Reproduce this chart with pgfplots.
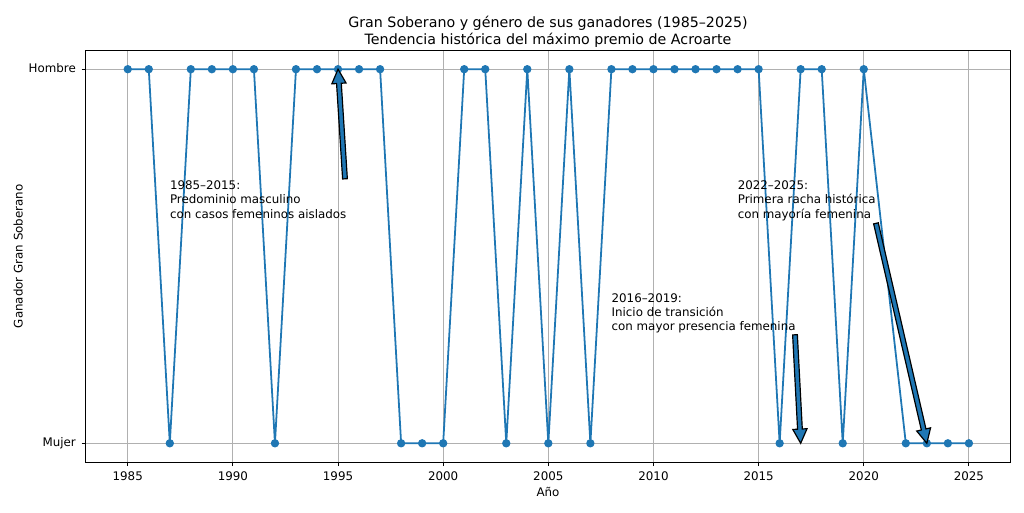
\documentclass[border=0pt]{standalone}
\usepackage{pgfplots}
\pgfplotsset{compat=1.18}
\usepackage{fontspec}
\setmainfont{DejaVu Sans}
\usetikzlibrary{calc}
\definecolor{cO}{HTML}{1F77B4}
\definecolor{gridgray}{HTML}{B0B0B0}
\newcommand{\fancyarrow}[2]{%
  \coordinate (#1h) at ($(#2)!12pt!(#1)$);
  \filldraw[fill=cO, draw=black, line width=1pt, line join=miter]
    ($(#1)!2pt!90:(#2)$) -- ($(#1h)!2pt!90:(#2)$) -- ($(#1h)!6pt!90:(#2)$) --
    (#2) -- ($(#1h)!6pt!-90:(#2)$) -- ($(#1h)!2pt!-90:(#2)$) --
    ($(#1)!2pt!-90:(#2)$) -- cycle;
}
\pgfplotstableread{
year winner
1985 1
1986 1
1987 0
1988 1
1989 1
1990 1
1991 1
1992 0
1993 1
1994 1
1995 1
1996 1
1997 1
1998 0
1999 0
2000 0
2001 1
2002 1
2003 0
2004 1
2005 0
2006 1
2007 0
2008 1
2009 1
2010 1
2011 1
2012 1
2013 1
2014 1
2015 1
2016 0
2017 1
2018 1
2019 0
2020 1
2022 0
2023 0
2024 0
2025 0
}\datatable
\begin{document}
\begin{tikzpicture}
\useasboundingbox (0,0) rectangle (864pt,432pt);
\begin{axis}[
  at={(72.3pt,42.19pt)}, anchor=south west,
  scale only axis, width=780.7pt, height=347.2pt,
  xmin=1983, xmax=2027, ymin=-0.05, ymax=1.05,
  xtick={1985,1990,...,2025}, ytick={0,1}, yticklabels={Mujer,Hombre},
  /pgf/number format/1000 sep={}, /pgf/number format/assume math mode=true,
  tick pos=left, tick align=outside, major tick length=3.5pt,
  tick style={black, line width=0.8pt},
  axis line style={black, line width=0.8pt},
  grid=major, grid style={gridgray, line width=0.8pt},
  tick label style={font=\fontsize{10}{12}\selectfont, inner sep=0pt},
  xticklabel style={anchor=base, yshift=-12.0pt},
  yticklabel style={anchor=mid east, xshift=-4.6pt},
]
\addplot[cO, line width=1.5pt, line join=round, mark=*, mark size=3pt, mark options={solid, fill=cO, draw=cO, line width=1pt}] table[x=year, y=winner] {\datatable};
\node[anchor=base west, align=left, font=\fontsize{10}{12}\selectfont, inner sep=0pt] at (axis cs:1987,0.602) {1985–2015:\\Predominio masculino\\con casos femeninos aislados};
\node[anchor=base west, align=left, font=\fontsize{10}{12}\selectfont, inner sep=0pt] at (axis cs:2008,0.301) {2016–2019:\\Inicio de transición\\con mayor presencia femenina};
\node[anchor=base west, align=left, font=\fontsize{10}{12}\selectfont, inner sep=0pt] at (axis cs:2014,0.602) {2022–2025:\\Primera racha histórica\\con mayoría femenina};
\coordinate (ta) at (axis cs:1995.33,0.707);
\coordinate (pa) at (axis cs:1995,1);
\coordinate (tb) at (axis cs:2016.73,0.29);
\coordinate (pb) at (axis cs:2017,0);
\coordinate (tc) at (axis cs:2020.58,0.588);
\coordinate (pc) at (axis cs:2023,0);
\end{axis}
\fancyarrow{ta}{pa}
\fancyarrow{tb}{pb}
\fancyarrow{tc}{pc}
\node[anchor=base, font=\fontsize{12}{14.4}\selectfont, inner sep=0pt] at (462.4pt,408.6pt) {Gran Soberano y género de sus ganadores (1985–2025)};
\node[anchor=base, font=\fontsize{12}{14.4}\selectfont, inner sep=0pt] at (462.4pt,394.6pt) {Tendencia histórica del máximo premio de Acroarte};
\node[anchor=base, font=\fontsize{10}{12}\selectfont, inner sep=0pt] at (462.4pt,13.5pt) {Año};
\node[anchor=center, rotate=90, font=\fontsize{10}{12}\selectfont, inner sep=0pt] at (15.4pt,215.8pt) {Ganador Gran Soberano};
\end{tikzpicture}
\end{document}
